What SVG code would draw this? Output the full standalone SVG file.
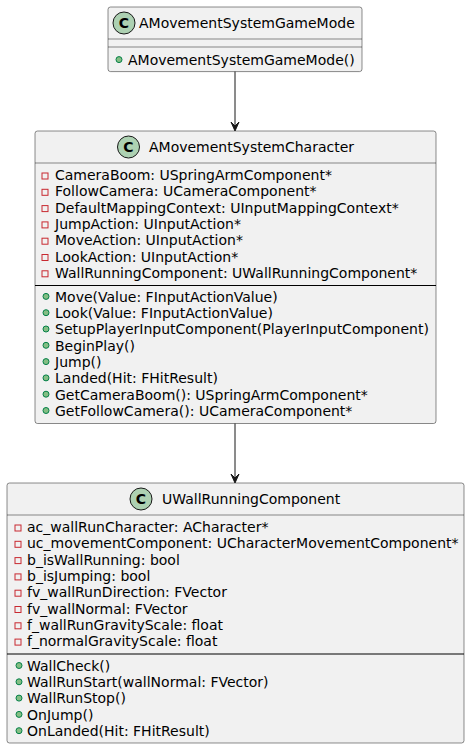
<svg xmlns="http://www.w3.org/2000/svg" width="470" height="749" viewBox="0 0 470 749">
  <style>
    .box { fill: #F1F1F1; stroke: #181818; stroke-width: 0.5; }
    .sep { stroke: #181818; stroke-width: 0.5; }
    .sepb { stroke: #000000; stroke-width: 1; }
    .badge { fill: #ADD1B2; stroke: #181818; stroke-width: 1; }
    .badge-t { font-family: "DejaVu Sans", sans-serif; font-size: 14px; font-weight: bold; fill: #000; text-anchor: middle; }
    .t { font-family: "DejaVu Sans", sans-serif; font-size: 14px; fill: #000; }
    .priv { fill: none; stroke: #C82930; stroke-width: 1; }
    .pub { fill: #84BE84; stroke: #038048; stroke-width: 1; }
    .edge { stroke: #181818; stroke-width: 1; fill: none; }
    .head { fill: #181818; stroke: #181818; stroke-width: 1; }
  </style>

  <!-- Game mode class -->
  <g id="AMovementSystemGameMode">
    <rect class="box" x="108" y="7" width="254" height="64.6" rx="2.5" ry="2.5"/>
    <circle class="badge" cx="124" cy="23" r="11"/>
    <text class="badge-t" x="124" y="28">C</text>
    <text class="t" x="139" y="27.85">AMovementSystemGameMode</text>
    <line class="sep" x1="108" y1="39" x2="362" y2="39"/>
    <line class="sep" x1="108" y1="47" x2="362" y2="47"/>
    <circle class="pub" cx="119" cy="59.6" r="3"/>
    <text class="t" x="128" y="64.5">AMovementSystemGameMode()</text>
  </g>

  <!-- Character class -->
  <g id="AMovementSystemCharacter">
    <rect class="box" x="35" y="131" width="401" height="292.5" rx="2.5" ry="2.5"/>
    <circle class="badge" cx="128.5" cy="147" r="11"/>
    <text class="badge-t" x="128.5" y="152">C</text>
    <text class="t" x="149" y="151.85">AMovementSystemCharacter</text>
    <line class="sep" x1="35" y1="163" x2="436" y2="163"/>
    <g>
      <rect class="priv" x="42" y="173" width="6" height="6"/>
      <text class="t" x="55" y="180">CameraBoom: USpringArmComponent*</text>
      <rect class="priv" x="42" y="189.3" width="6" height="6"/>
      <text class="t" x="55" y="196.3">FollowCamera: UCameraComponent*</text>
      <rect class="priv" x="42" y="205.6" width="6" height="6"/>
      <text class="t" x="55" y="212.6">DefaultMappingContext: UInputMappingContext*</text>
      <rect class="priv" x="42" y="221.9" width="6" height="6"/>
      <text class="t" x="55" y="228.9">JumpAction: UInputAction*</text>
      <rect class="priv" x="42" y="238.2" width="6" height="6"/>
      <text class="t" x="55" y="245.2">MoveAction: UInputAction*</text>
      <rect class="priv" x="42" y="254.5" width="6" height="6"/>
      <text class="t" x="55" y="261.5">LookAction: UInputAction*</text>
      <rect class="priv" x="42" y="270.8" width="6" height="6"/>
      <text class="t" x="55" y="277.8">WallRunningComponent: UWallRunningComponent*</text>
    </g>
    <line class="sepb" x1="35" y1="285.5" x2="436" y2="285.5"/>
    <g>
      <circle class="pub" cx="46" cy="296.4" r="3"/>
      <text class="t" x="55" y="301.7">Move(Value: FInputActionValue)</text>
      <circle class="pub" cx="46" cy="312.7" r="3"/>
      <text class="t" x="55" y="318">Look(Value: FInputActionValue)</text>
      <circle class="pub" cx="46" cy="329" r="3"/>
      <text class="t" x="55" y="334.3">SetupPlayerInputComponent(PlayerInputComponent)</text>
      <circle class="pub" cx="46" cy="345.3" r="3"/>
      <text class="t" x="55" y="350.6">BeginPlay()</text>
      <circle class="pub" cx="46" cy="361.6" r="3"/>
      <text class="t" x="55" y="366.9">Jump()</text>
      <circle class="pub" cx="46" cy="377.9" r="3"/>
      <text class="t" x="55" y="383.2">Landed(Hit: FHitResult)</text>
      <circle class="pub" cx="46" cy="394.2" r="3"/>
      <text class="t" x="55" y="399.5">GetCameraBoom(): USpringArmComponent*</text>
      <circle class="pub" cx="46" cy="410.5" r="3"/>
      <text class="t" x="55" y="415.8">GetFollowCamera(): UCameraComponent*</text>
    </g>
  </g>

  <!-- Wall running component class -->
  <g id="UWallRunningComponent">
    <rect class="box" x="7" y="483" width="457" height="260" rx="2.5" ry="2.5"/>
    <circle class="badge" cx="141" cy="499" r="11"/>
    <text class="badge-t" x="141" y="504">C</text>
    <text class="t" x="162" y="503.85">UWallRunningComponent</text>
    <line class="sep" x1="7" y1="515" x2="464" y2="515"/>
    <g>
      <rect class="priv" x="15" y="525" width="6" height="6"/>
      <text class="t" x="27" y="532">ac_wallRunCharacter: ACharacter*</text>
      <rect class="priv" x="15" y="541.3" width="6" height="6"/>
      <text class="t" x="27" y="548.3">uc_movementComponent: UCharacterMovementComponent*</text>
      <rect class="priv" x="15" y="557.6" width="6" height="6"/>
      <text class="t" x="27" y="564.6">b_isWallRunning: bool</text>
      <rect class="priv" x="15" y="573.9" width="6" height="6"/>
      <text class="t" x="27" y="580.9">b_isJumping: bool</text>
      <rect class="priv" x="15" y="590.2" width="6" height="6"/>
      <text class="t" x="27" y="597.2">fv_wallRunDirection: FVector</text>
      <rect class="priv" x="15" y="606.5" width="6" height="6"/>
      <text class="t" x="27" y="613.5">fv_wallNormal: FVector</text>
      <rect class="priv" x="15" y="622.8" width="6" height="6"/>
      <text class="t" x="27" y="629.8">f_wallRunGravityScale: float</text>
      <rect class="priv" x="15" y="639.1" width="6" height="6"/>
      <text class="t" x="27" y="646.1">f_normalGravityScale: float</text>
    </g>
    <line class="sepb" x1="7" y1="654" x2="464" y2="654"/>
    <g>
      <circle class="pub" cx="19" cy="665.5" r="3"/>
      <text class="t" x="27" y="670.8">WallCheck()</text>
      <circle class="pub" cx="19" cy="681.8" r="3"/>
      <text class="t" x="27" y="687.1">WallRunStart(wallNormal: FVector)</text>
      <circle class="pub" cx="19" cy="698.1" r="3"/>
      <text class="t" x="27" y="703.4">WallRunStop()</text>
      <circle class="pub" cx="19" cy="714.4" r="3"/>
      <text class="t" x="27" y="719.7">OnJump()</text>
      <circle class="pub" cx="19" cy="730.7" r="3"/>
      <text class="t" x="27" y="736">OnLanded(Hit: FHitResult)</text>
    </g>
  </g>

  <!-- Associations -->
  <g id="connectors">
    <line class="edge" x1="235" y1="71.6" x2="235" y2="125"/>
    <polygon class="head" points="231,122 235,131 239,122 235,126"/>
    <line class="edge" x1="235" y1="423.5" x2="235" y2="477"/>
    <polygon class="head" points="231,474 235,483 239,474 235,478"/>
  </g>
</svg>
